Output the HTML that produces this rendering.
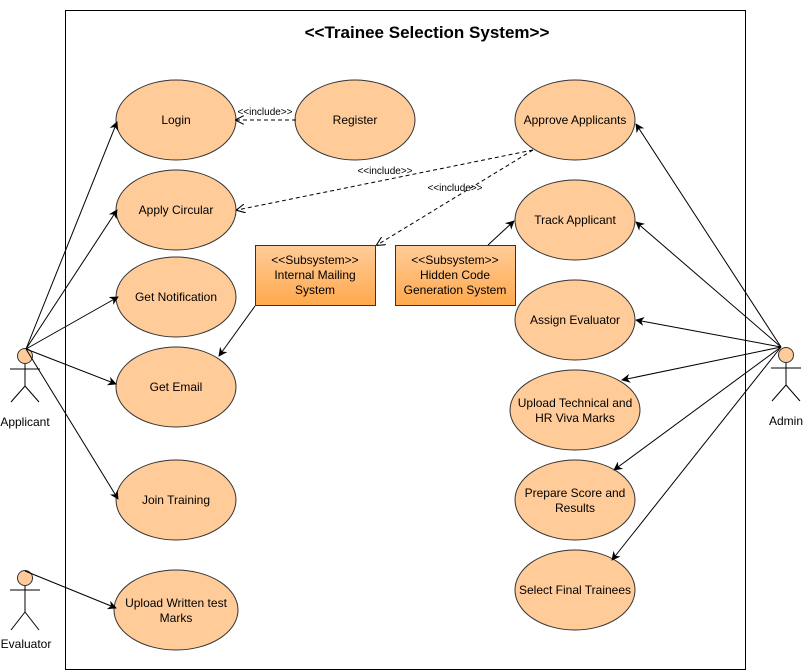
<!DOCTYPE html>
<html><head><meta charset="utf-8"><style>
html,body{margin:0;padding:0;background:#fff}
svg{display:block}
text{font-family:"Liberation Sans",Arial,sans-serif;font-size:12px;fill:#000}
</style></head><body>
<svg width="803" height="671" viewBox="0 0 803 671" xmlns="http://www.w3.org/2000/svg">
<defs>
<marker id="a" viewBox="0 0 10 10" refX="9" refY="5" markerWidth="9" markerHeight="9" orient="auto-start-reverse" markerUnits="userSpaceOnUse"><path d="M0,0 L10,5 L0,10 L3,5 z" fill="#000"/></marker>
<marker id="o" viewBox="0 0 10 10" refX="9" refY="5" markerWidth="9" markerHeight="9" orient="auto" markerUnits="userSpaceOnUse"><path d="M0,0 L10,5 L0,10" fill="none" stroke="#000" stroke-width="1.2"/></marker>
<linearGradient id="g" x1="0" y1="0" x2="0" y2="1"><stop offset="0" stop-color="#ffcc99"/><stop offset="1" stop-color="#ffa94d"/></linearGradient>
</defs>
<rect x="65.5" y="10.5" width="680" height="659" fill="#fff" stroke="#000"/>
<text x="427" y="38" text-anchor="middle" style="font-size:17px;font-weight:bold">&lt;&lt;Trainee Selection System&gt;&gt;</text>

<g fill="#ffcc99" stroke="#333" stroke-width="1">
<ellipse cx="176" cy="120" rx="60" ry="40"/>
<ellipse cx="176" cy="210" rx="60" ry="40"/>
<ellipse cx="176" cy="297" rx="60" ry="40"/>
<ellipse cx="176" cy="387" rx="60" ry="40"/>
<ellipse cx="176" cy="500" rx="60" ry="40"/>
<ellipse cx="176" cy="610" rx="62" ry="40"/>
<ellipse cx="355" cy="120" rx="60" ry="40"/>
<ellipse cx="575" cy="120" rx="60" ry="40"/>
<ellipse cx="575" cy="220" rx="60" ry="40"/>
<ellipse cx="575" cy="320" rx="60" ry="40"/>
<ellipse cx="575" cy="410" rx="65" ry="40"/>
<ellipse cx="575" cy="500" rx="60" ry="40"/>
<ellipse cx="575" cy="590" rx="60" ry="40"/>
</g>
<rect x="255.5" y="245.5" width="120" height="60" fill="url(#g)" stroke="#333"/>
<rect x="395.5" y="245.5" width="120" height="60" fill="url(#g)" stroke="#333"/>

<g text-anchor="middle">
<text x="176" y="124">Login</text>
<text x="176" y="214">Apply Circular</text>
<text x="176" y="301">Get Notification</text>
<text x="176" y="391">Get Email</text>
<text x="176" y="504">Join Training</text>
<text x="176" y="607">Upload Written test</text>
<text x="176" y="622">Marks</text>
<text x="355" y="124">Register</text>
<text x="575" y="124">Approve Applicants</text>
<text x="575" y="224">Track Applicant</text>
<text x="575" y="324">Assign Evaluator</text>
<text x="575" y="407">Upload Technical  and</text>
<text x="575" y="422">HR Viva Marks</text>
<text x="575" y="497">Prepare Score and</text>
<text x="575" y="512">Results</text>
<text x="575" y="594">Select Final Trainees</text>
<text x="315" y="264">&lt;&lt;Subsystem&gt;&gt;</text>
<text x="315" y="279">Internal Mailing</text>
<text x="315" y="294">System</text>
<text x="455" y="264">&lt;&lt;Subsystem&gt;&gt;</text>
<text x="455" y="279">Hidden Code</text>
<text x="455" y="294">Generation System</text>
<text x="265" y="115" style="font-size:10px">&lt;&lt;include&gt;&gt;</text>
<text x="385" y="174" style="font-size:10px">&lt;&lt;include&gt;&gt;</text>
<text x="455" y="191" style="font-size:10px">&lt;&lt;include&gt;&gt;</text>
<text x="25" y="426">Applicant</text>
<text x="786" y="425">Admin</text>
<text x="26" y="648">Evaluator</text>
</g>

<g stroke="#000" fill="none" stroke-width="1">
<!-- actors -->
<circle cx="25" cy="356" r="7.5" fill="#ffcc99" stroke="#333"/>
<path d="M25,364 V386 M10,369 H40 M25,386 L11,402 M25,386 L39,402"/>
<circle cx="786" cy="355" r="7.5" fill="#ffcc99" stroke="#333"/>
<path d="M786,363 V385 M771,368 H801 M786,385 L772,401 M786,385 L800,401"/>
<circle cx="25" cy="578" r="7.5" fill="#ffcc99" stroke="#333"/>
<path d="M25,586 V612 M10,590 H40 M25,612 L11,630 M25,612 L39,630"/>

<!-- applicant lines -->
<line x1="26" y1="349" x2="117" y2="122" marker-end="url(#a)"/>
<line x1="26" y1="349" x2="117" y2="210" marker-end="url(#a)"/>
<line x1="26" y1="349" x2="118" y2="297" marker-end="url(#a)"/>
<line x1="26" y1="349" x2="116" y2="384" marker-end="url(#a)"/>
<line x1="26" y1="349" x2="118" y2="499" marker-end="url(#a)"/>
<line x1="25" y1="571" x2="116" y2="608" marker-end="url(#a)"/>

<!-- admin lines -->
<line x1="781" y1="347" x2="636" y2="124" marker-end="url(#a)"/>
<line x1="781" y1="347" x2="636" y2="222" marker-end="url(#a)"/>
<line x1="781" y1="347" x2="636" y2="320" marker-end="url(#a)"/>
<line x1="781" y1="347" x2="622" y2="380" marker-end="url(#a)"/>
<line x1="781" y1="347" x2="614" y2="470" marker-end="url(#a)"/>
<line x1="781" y1="347" x2="612" y2="560" marker-end="url(#a)"/>

<line x1="488" y1="245" x2="514" y2="221" marker-end="url(#a)"/>
<line x1="255" y1="306" x2="219" y2="356" marker-end="url(#a)"/>

<g stroke-dasharray="4,3">
<line x1="296" y1="120" x2="236" y2="120" marker-end="url(#o)"/>
<line x1="533" y1="150" x2="237" y2="210" marker-end="url(#o)"/>
<line x1="533" y1="150" x2="377" y2="245" marker-end="url(#o)"/>
</g>
</g>
</svg>
</body></html>
